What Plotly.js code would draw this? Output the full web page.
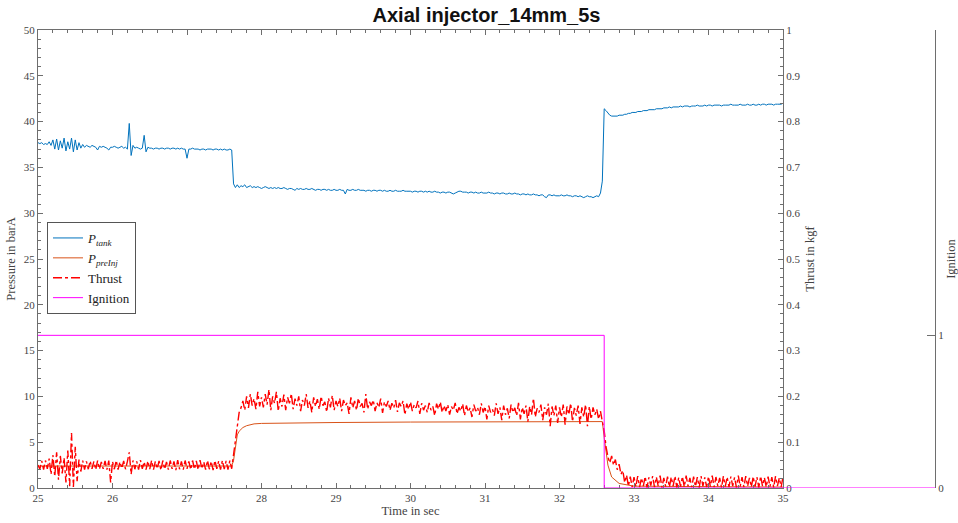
<!DOCTYPE html>
<html>
<head>
<meta charset="utf-8">
<script src="https://cdn.plot.ly/plotly-3.0.1.min.js"></script>
<style>
  html, body { margin: 0; padding: 0; background: #fff; }
  #chart { width: 958px; height: 523px; }
</style>
</head>
<body>
<div id="chart"></div>
<script>
// Logged test run: samples every 25 ms starting at 25 s.
const T0 = 25;
const DT = 0.025;

// Tank pressure in barA, one row = 0.25 s
const pTank = [
  37.7,37.6,37.7,37.5,37.6,37.5,37.8,37.4,38.0,37.0,   // 25.00
  38.1,36.9,37.9,37.1,38.2,36.8,37.8,37.0,38.2,36.7,   // 25.25
  38.0,36.9,37.7,37.1,37.5,37.2,37.4,37.3,37.2,37.4,   // 25.50
  37.3,37.2,36.9,37.3,37.2,37.3,37.2,37.1,36.9,37.2,   // 25.75
  37.2,37.3,37.2,37.1,37.2,37.3,37.1,37.2,37.0,39.8,   // 26.00
  36.3,37.4,37.1,37.2,37.1,37.0,37.1,38.5,36.7,37.2,   // 26.25
  37.1,37.1,37.0,37.1,37.1,37.0,37.1,37.1,37.0,37.1,   // 26.50
  37.1,37.0,37.1,37.1,37.0,37.1,37.0,37.1,37.0,37.0,   // 26.75
  36.0,37.0,37.0,37.1,37.0,37.0,37.0,36.9,37.0,37.0,   // 27.00
  36.9,37.0,37.0,37.0,36.9,37.0,37.0,36.9,37.0,36.9,   // 27.25
  37.0,36.9,36.9,37.0,36.9,33.2,32.8,33.1,32.8,33.0,   // 27.50
  32.9,33.1,32.8,32.9,33.0,32.8,32.9,32.8,32.9,32.8,   // 27.75
  32.7,32.8,32.9,32.8,32.7,32.8,32.7,32.8,32.7,32.8,   // 28.00
  32.7,32.7,32.8,32.7,32.6,32.7,32.7,32.6,32.5,32.7,   // 28.25
  32.6,32.7,32.6,32.6,32.7,32.6,32.6,32.7,32.6,32.5,   // 28.50
  32.6,32.6,32.5,32.6,32.6,32.5,32.6,32.5,32.5,32.6,   // 28.75
  32.5,32.5,32.6,32.5,32.5,32.1,32.6,32.5,32.5,32.6,   // 29.00
  32.5,32.5,32.6,32.5,32.5,32.5,32.4,32.5,32.5,32.4,   // 29.25
  32.5,32.5,32.4,32.5,32.5,32.4,32.5,32.4,32.4,32.5,   // 29.50
  32.4,32.4,32.5,32.4,32.4,32.4,32.5,32.4,32.4,32.4,   // 29.75
  32.4,32.3,32.4,32.4,32.3,32.4,32.4,32.3,32.4,32.3,   // 30.00
  32.4,32.3,32.3,32.4,32.3,32.3,32.2,32.3,32.3,32.2,   // 30.25
  32.3,32.3,32.2,32.1,32.2,32.3,32.4,32.4,32.3,32.3,   // 30.50
  32.3,32.2,32.3,32.3,32.2,32.3,32.2,32.2,32.3,32.2,   // 30.75
  32.2,32.2,32.3,32.2,32.2,32.1,32.2,32.2,32.1,32.2,   // 31.00
  32.2,32.1,32.1,32.2,32.1,32.1,32.2,32.1,32.1,32.0,   // 31.25
  32.1,32.1,32.0,32.1,32.0,32.0,32.1,32.0,32.0,31.9,   // 31.50
  32.0,32.0,31.8,31.7,32.0,32.0,31.9,32.0,31.9,31.9,   // 31.75
  31.9,32.0,31.9,31.9,32.0,31.9,31.9,31.8,31.9,31.9,   // 32.00
  31.8,31.9,31.8,31.7,31.8,31.9,31.8,31.8,31.7,31.8,   // 32.25
  31.9,31.8,32.2,33.5,41.4,41.2,40.9,40.7,40.6,40.6,   // 32.50
  40.6,40.6,40.7,40.7,40.7,40.8,40.8,40.9,40.9,41.0,   // 32.75
  41.0,41.0,41.1,41.1,41.1,41.2,41.2,41.2,41.3,41.3,   // 33.00
  41.3,41.3,41.4,41.4,41.4,41.4,41.5,41.5,41.5,41.6,   // 33.25
  41.5,41.6,41.6,41.6,41.6,41.7,41.6,41.7,41.7,41.7,   // 33.50
  41.6,41.7,41.7,41.7,41.8,41.7,41.7,41.7,41.8,41.7,   // 33.75
  41.8,41.8,41.7,41.8,41.8,41.8,41.8,41.7,41.8,41.8,   // 34.00
  41.8,41.8,41.9,41.8,41.8,41.8,41.8,41.9,41.8,41.8,   // 34.25
  41.8,41.9,41.8,41.8,41.9,41.8,41.8,41.9,41.8,41.9,   // 34.50
  41.9,41.8,41.9,41.9,41.9,41.8,41.9,41.9,41.9,41.9,   // 34.75
  42.0                                                 // 35.00
];

// Load cell thrust in kgf, same sampling
const thrust = [
  0.050,0.041,0.059,0.040,0.060,0.042,0.064,0.030,0.072,0.025,   // 25.00
  0.078,0.018,0.070,0.032,0.066,0.012,0.082,0.004,0.120,0.002,   // 25.25
  0.090,0.015,0.062,0.036,0.060,0.040,0.058,0.041,0.059,0.042,   // 25.50
  0.058,0.040,0.060,0.041,0.057,0.042,0.059,0.040,0.060,0.012,   // 25.75
  0.058,0.041,0.060,0.040,0.057,0.043,0.059,0.041,0.058,0.078,   // 26.00
  0.030,0.060,0.041,0.058,0.040,0.061,0.042,0.057,0.040,0.059,   // 26.25
  0.041,0.060,0.040,0.058,0.042,0.059,0.039,0.060,0.041,0.057,   // 26.50
  0.040,0.060,0.042,0.058,0.039,0.061,0.041,0.058,0.040,0.060,   // 26.75
  0.042,0.058,0.040,0.060,0.041,0.059,0.040,0.061,0.042,0.057,   // 27.00
  0.040,0.060,0.041,0.058,0.039,0.060,0.042,0.059,0.040,0.060,   // 27.25
  0.041,0.059,0.040,0.060,0.042,0.075,0.110,0.140,0.165,0.175,   // 27.50
  0.190,0.170,0.200,0.175,0.205,0.180,0.195,0.172,0.210,0.178,   // 27.75
  0.198,0.176,0.205,0.182,0.215,0.170,0.200,0.185,0.210,0.168,   // 28.00
  0.196,0.178,0.204,0.170,0.198,0.185,0.206,0.172,0.195,0.180,   // 28.25
  0.200,0.168,0.192,0.180,0.205,0.175,0.190,0.165,0.198,0.178,   // 28.50
  0.194,0.172,0.200,0.180,0.188,0.166,0.196,0.176,0.202,0.170,   // 28.75
  0.190,0.178,0.196,0.168,0.192,0.180,0.186,0.162,0.198,0.175,   // 29.00
  0.190,0.170,0.196,0.178,0.185,0.165,0.205,0.172,0.188,0.180,   // 29.25
  0.192,0.168,0.186,0.176,0.195,0.164,0.188,0.178,0.190,0.170,   // 29.50
  0.185,0.175,0.192,0.166,0.186,0.178,0.190,0.160,0.184,0.172,   // 29.75
  0.188,0.168,0.182,0.175,0.190,0.162,0.185,0.170,0.180,0.165,   // 30.00
  0.186,0.170,0.178,0.158,0.184,0.172,0.188,0.165,0.180,0.168,   // 30.25
  0.182,0.160,0.178,0.170,0.186,0.162,0.176,0.168,0.184,0.158,   // 30.50
  0.180,0.166,0.175,0.155,0.182,0.168,0.176,0.160,0.185,0.165,   // 30.75
  0.178,0.150,0.180,0.165,0.172,0.158,0.185,0.162,0.176,0.148,   // 31.00
  0.180,0.160,0.174,0.152,0.182,0.165,0.175,0.158,0.186,0.150,   // 31.25
  0.176,0.162,0.180,0.145,0.178,0.160,0.196,0.155,0.174,0.165,   // 31.50
  0.182,0.148,0.176,0.160,0.184,0.135,0.178,0.158,0.180,0.142,   // 31.75
  0.176,0.155,0.182,0.138,0.178,0.160,0.185,0.145,0.175,0.158,   // 32.00
  0.180,0.140,0.176,0.155,0.182,0.135,0.178,0.150,0.176,0.160,   // 32.25
  0.172,0.150,0.168,0.145,0.125,0.090,0.068,0.055,0.070,0.050,   // 32.50
  0.062,0.040,0.052,0.030,0.038,0.012,0.028,0.004,0.025,0.002,   // 32.75
  0.024,0.003,0.026,0.002,0.022,0.004,0.025,0.001,0.023,0.005,   // 33.00
  0.026,0.002,0.024,0.004,0.027,0.001,0.022,0.003,0.025,0.002,   // 33.25
  0.024,0.004,0.026,0.001,0.023,0.003,0.025,0.002,0.027,0.004,   // 33.50
  0.022,0.002,0.025,0.003,0.024,0.001,0.026,0.004,0.023,0.002,   // 33.75
  0.025,0.003,0.027,0.002,0.024,0.004,0.022,0.001,0.026,0.003,   // 34.00
  0.024,0.002,0.025,0.004,0.023,0.001,0.027,0.003,0.024,0.002,   // 34.25
  0.026,0.004,0.022,0.002,0.025,0.003,0.024,0.001,0.026,0.004,   // 34.50
  0.023,0.002,0.025,0.003,0.024,0.001,0.026,0.004,0.022,0.002,   // 34.75
  0.024                                                          // 35.00
];

// Pre-injector pressure in barA (smooth, logged at irregular times)
const preInjTime     = [25, 27.6, 27.625, 27.65, 27.675, 27.7, 27.75, 27.8, 27.9, 28.0, 28.3, 29.0, 30.0, 31.0, 32.0, 32.575, 32.6, 32.65, 32.7, 32.8, 33.0, 35.0];
const preInjPressure = [2.4, 2.4, 3.0, 4.6, 5.8, 6.2, 6.6, 6.8, 7.0, 7.05, 7.1, 7.15, 7.2, 7.2, 7.25, 7.25, 5.5, 2.5, 1.2, 0.5, 0.2, 0.1];

// Igniter on/off state
const ignitionTime  = [25, 32.6, 32.6, 37.1];
const ignitionState = [1, 1, 0, 0];

const sampleTime = pTank.map((_, i) => T0 + i * DT);

// Frame geometry (px)
const FIG_W = 958, FIG_H = 523;
const FRAME_L = 38, MAIN_R = 783, IGN_R = 935, FRAME_T = 30, FRAME_B = 488;
const plotW = IGN_R - FRAME_L;
const mainFrac = (MAIN_R - FRAME_L) / plotW;
const xMin = 25, xMax = 35;
const xMax2 = xMin + (xMax - xMin) * plotW / (MAIN_R - FRAME_L);

const SERIF = 'Liberation Serif, DejaVu Serif, serif';
const AX = '#6e6e6e';
const TXT = '#444444';
const tickFont = { family: SERIF, size: 11, color: TXT };
const titleFont = { family: SERIF, size: 12.5, color: TXT };

const traces = [
  {
    x: sampleTime, y: pTank, xaxis: 'x', yaxis: 'y',
    type: 'scatter', mode: 'lines',
    name: '<i>P</i><sub><i>tank</i></sub>',
    line: { color: '#0072BD', width: 1 }
  },
  {
    x: preInjTime, y: preInjPressure, xaxis: 'x', yaxis: 'y',
    type: 'scatter', mode: 'lines',
    name: '<i>P</i><sub><i>preInj</i></sub>',
    line: { color: '#D95319', width: 1 }
  },
  {
    x: sampleTime, y: thrust, xaxis: 'x', yaxis: 'y2',
    type: 'scatter', mode: 'lines',
    name: 'Thrust',
    line: { color: '#FF0000', width: 1.4, dash: 'dashdot' }
  },
  {
    x: ignitionTime, y: ignitionState, xaxis: 'x2', yaxis: 'y3',
    type: 'scatter', mode: 'lines',
    name: 'Ignition',
    line: { color: '#FF00FF', width: 1 }
  }
];

const layout = {
  width: FIG_W, height: FIG_H,
  margin: { l: FRAME_L, r: FIG_W - IGN_R, t: FRAME_T, b: FIG_H - FRAME_B, pad: 0 },
  paper_bgcolor: '#ffffff',
  plot_bgcolor: 'rgba(0,0,0,0)',
  showlegend: true,
  title: {
    text: '<b>Axial injector_14mm_5s</b>',
    font: { family: 'Liberation Sans, Arial, sans-serif', size: 20, color: '#111' },
    xref: 'paper', x: 0.5, xanchor: 'center',
    yref: 'container', y: 1 - 15 / FIG_H, yanchor: 'middle'
  },
  legend: {
    x: (47 - FRAME_L) / plotW, y: (FRAME_B - 222) / (FRAME_B - FRAME_T),
    xanchor: 'left', yanchor: 'top',
    bgcolor: '#ffffff', bordercolor: '#555555', borderwidth: 1,
    font: { family: SERIF, size: 13, color: '#222' },
    itemwidth: 30, tracegroupgap: 0
  },
  xaxis: {
    domain: [0, mainFrac], anchor: 'y',
    range: [xMin, xMax], dtick: 1, tick0: 25,
    ticks: 'inside', ticklen: 5, tickwidth: 1, tickcolor: AX,
    minor: { dtick: 0.2, ticks: 'inside', ticklen: 3, tickcolor: AX },
    showline: true, linecolor: AX, linewidth: 1, mirror: 'ticks',
    showgrid: false, zeroline: false,
    tickfont: tickFont,
    title: { text: 'Time in sec', font: titleFont, standoff: 2 }
  },
  yaxis: {
    domain: [0, 1], anchor: 'x',
    range: [0, 50], dtick: 5,
    ticks: 'inside', ticklen: 5, tickwidth: 1, tickcolor: AX,
    minor: { dtick: 1, ticks: 'inside', ticklen: 3, tickcolor: AX },
    showline: true, linecolor: AX, linewidth: 1,
    showgrid: false, zeroline: false,
    tickfont: tickFont,
    title: { text: 'Pressure in barA', font: titleFont, standoff: 5 }
  },
  yaxis2: {
    overlaying: 'y', side: 'right', anchor: 'x',
    range: [0, 1], dtick: 0.1,
    ticks: 'inside', ticklen: 5, tickwidth: 1, tickcolor: AX,
    minor: { dtick: 0.02, ticks: 'inside', ticklen: 3, tickcolor: AX },
    showline: true, linecolor: AX, linewidth: 1,
    showgrid: false, zeroline: false,
    tickfont: tickFont,
    title: { text: 'Thrust in kgf', font: titleFont, standoff: 5 }
  },
  xaxis2: {
    domain: [0, 1], anchor: 'y3',
    range: [xMin, xMax2], visible: false,
    showgrid: false, zeroline: false
  },
  yaxis3: {
    domain: [0, 1], anchor: 'x2', side: 'right',
    range: [0, 3], tickvals: [0, 1], ticktext: ['0', '1'],
    ticks: 'inside', ticklen: 8, tickwidth: 1, tickcolor: AX,
    showline: true, linecolor: AX, linewidth: 1,
    showgrid: false, zeroline: false,
    tickfont: tickFont,
    title: { text: 'Ignition', font: titleFont, standoff: 3 }
  }
};

Plotly.newPlot('chart', traces, layout, { displayModeBar: false, staticPlot: true });
</script>
</body>
</html>
